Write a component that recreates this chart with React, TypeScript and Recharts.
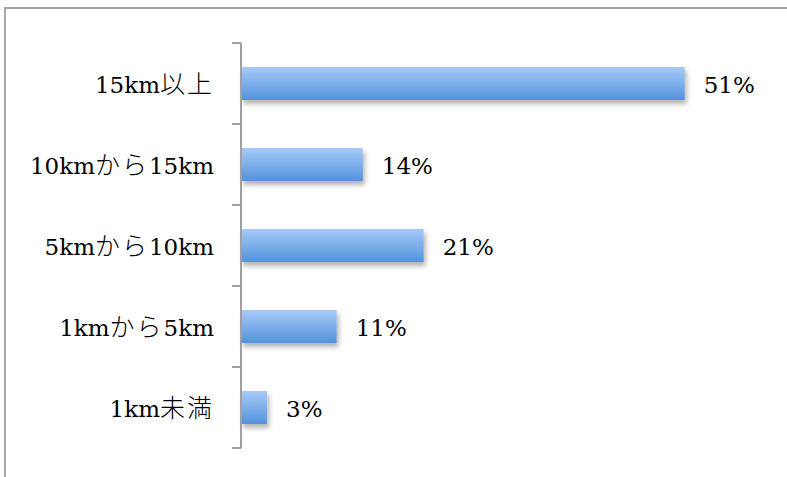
import { BarChart, Bar, XAxis, YAxis, LabelList } from "recharts";

const categories = ["15km以上", "10kmから15km", "5kmから10km", "1kmから5km", "1km未満"];
const shares = [51, 14, 21, 11, 3];

const data = categories.map((name, i) => ({ name, value: shares[i] }));

const W = 787;
const H = 477;
const TOP = 43;
const BOTTOM = 29;
const AXIS_X = 241;
const BAND = (H - TOP - BOTTOM) / categories.length;
const LATIN = '"DejaVu Serif", "Liberation Serif", serif';
const CJK = '"Noto Sans CJK JP", sans-serif';

// latin runs in serif, kana/kanji runs in the CJK font, a bit larger
function runs(s: string) {
  return s.split(/([\u3040-\u30ff\u4e00-\u9fff]+)/).filter(Boolean);
}

function CategoryTick(props: any) {
  const { y, payload, index } = props;
  const half = BAND / 2;
  return (
    <g>
      <line x1={AXIS_X - 9} x2={AXIS_X} y1={y - half} y2={y - half} stroke="#a0a0a0" strokeWidth={2} />
      {index === categories.length - 1 && (
        <line x1={AXIS_X - 9} x2={AXIS_X} y1={y + half} y2={y + half} stroke="#a0a0a0" strokeWidth={2} />
      )}
      <text x={AXIS_X - 27} y={y + 9} textAnchor="end" fill="#000" style={{ fontFamily: LATIN, fontSize: 23 }}>
        {runs(payload.value).map((r, i) =>
          /[\u3040-\u30ff\u4e00-\u9fff]/.test(r) ? (
            <tspan key={i} style={{ fontFamily: CJK, fontSize: 25, fontWeight: 300 }} letterSpacing={2}>
              {r}
            </tspan>
          ) : (
            <tspan key={i}>{r}</tspan>
          )
        )}
      </text>
    </g>
  );
}

function ShadowBar(props: any) {
  const { x, y, width, height } = props;
  return <rect x={x} y={y} width={width} height={height} fill="url(#barGrad)" filter="url(#barShadow)" />;
}

function PercentLabel(props: any) {
  const { x, y, width, height, value } = props;
  return (
    <text x={x + width + 19} y={y + height / 2 + 9} fill="#000" style={{ fontFamily: LATIN, fontSize: 23 }}>
      {value}%
    </text>
  );
}

export default function App() {
  return (
    <div style={{ position: "absolute", left: 0, top: 0, width: W, height: H, background: "#fff", overflow: "hidden" }}>
      <div
        style={{
          position: "absolute",
          left: 4,
          top: 7,
          width: 900,
          height: 600,
          borderLeft: "2px solid #a6a6a6",
          borderTop: "2px solid #a6a6a6",
        }}
      />
      <div style={{ position: "absolute", left: 0, top: 0 }}>
        <BarChart
          width={W}
          height={H}
          data={data}
          layout="vertical"
          margin={{ top: TOP, right: 24, bottom: BOTTOM, left: 0 }}
        >
          <defs>
            <linearGradient id="barGrad" x1="0" y1="0" x2="0" y2="1">
              <stop offset="0%" stopColor="#a6caf9" />
              <stop offset="100%" stopColor="#5393dc" />
            </linearGradient>
            <filter id="barShadow" x="-10%" y="-20%" width="130%" height="160%">
              <feDropShadow dx={2} dy={4} stdDeviation={2.5} floodColor="#000" floodOpacity={0.3} />
            </filter>
          </defs>
          <XAxis type="number" domain={[0, 60]} hide />
          <YAxis
            type="category"
            dataKey="name"
            width={AXIS_X}
            axisLine={{ stroke: "#a0a0a0", strokeWidth: 2 }}
            tickLine={false}
            tick={<CategoryTick />}
            interval={0}
          />
          <Bar dataKey="value" barSize={33} shape={<ShadowBar />} isAnimationActive={false}>
            <LabelList dataKey="value" content={<PercentLabel />} />
          </Bar>
        </BarChart>
      </div>
    </div>
  );
}
